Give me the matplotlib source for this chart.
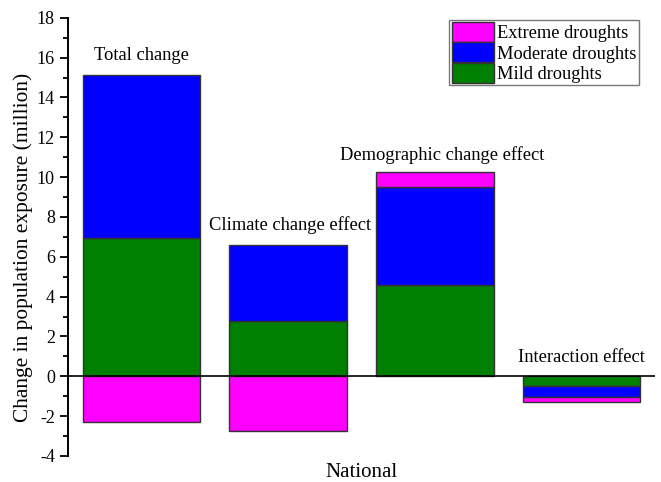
import numpy as np
import matplotlib.pyplot as plt
from matplotlib.ticker import MultipleLocator

plt.rcParams['font.family'] = ['Liberation Serif', 'DejaVu Serif']
plt.rcParams['axes.unicode_minus'] = False

# values (million people)
categories = ['Total change', 'Climate change effect', 'Demographic change effect', 'Interaction effect']
mild = [6.95, 2.78, 4.58, -0.50]
moderate = [8.17, 3.80, 4.95, -0.54]
extreme = [-2.30, -2.75, 0.75, -0.25]
label_y = [16.1, 7.6, 11.1, 0.95]
label_dx = [0, 0.01, 0.05, 0.0]

series = [('Mild droughts', mild, '#008000'),
          ('Moderate droughts', moderate, '#0000ff'),
          ('Extreme droughts', extreme, '#ff00ff')]

fig = plt.figure(figsize=(6.61, 4.82), dpi=100)
ax = fig.add_axes([0.103, 0.054, 0.888, 0.909])

x = np.arange(len(categories))
pos_bottom = np.zeros(len(x))
neg_bottom = np.zeros(len(x))
handles = {}
for name, vals, col in series:
    vals = np.array(vals)
    bottom = np.where(vals >= 0, pos_bottom, neg_bottom)
    b = ax.bar(x, vals, 0.8, bottom=bottom, color=col, edgecolor='#333333', linewidth=1, label=name)
    handles[name] = b
    pos_bottom = pos_bottom + np.where(vals >= 0, vals, 0)
    neg_bottom = neg_bottom + np.where(vals < 0, vals, 0)

for xi, txt, yy, dx in zip(x, categories, label_y, label_dx):
    ax.text(xi + dx, yy, txt, ha='center', va='center', fontsize=13.3)

ax.axhline(0, color='black', linewidth=1.2, zorder=3)

ax.set_xlim(-0.5, 3.5)
ax.set_ylim(-4, 18)
ax.yaxis.set_major_locator(MultipleLocator(2))
ax.yaxis.set_minor_locator(MultipleLocator(1))
ax.tick_params(axis='y', which='major', direction='out', length=6, width=1.3, labelsize=13)
ax.tick_params(axis='y', which='minor', direction='out', length=3.5, width=1.3)
ax.set_xticks([])
for s in ['top', 'right', 'bottom']:
    ax.spines[s].set_visible(False)
ax.spines['left'].set_linewidth(1.4)

ax.set_ylabel('Change in population exposure (million)', fontsize=15.4)
ax.yaxis.set_label_coords(-0.06, 0.477)
ax.set_xlabel('National', fontsize=15, labelpad=5)

order = ['Extreme droughts', 'Moderate droughts', 'Mild droughts']
leg = ax.legend([handles[n] for n in order], order, loc='upper right', bbox_to_anchor=(0.973, 0.996),
                fontsize=13.2, frameon=True, fancybox=False, edgecolor='#555555',
                handlelength=2.3, handleheight=1.3, borderpad=0.15, labelspacing=0.0,
                handletextpad=0.15, borderaxespad=0.0)
leg.get_frame().set_linewidth(1.0)

fig.savefig('out.png', dpi=100)
